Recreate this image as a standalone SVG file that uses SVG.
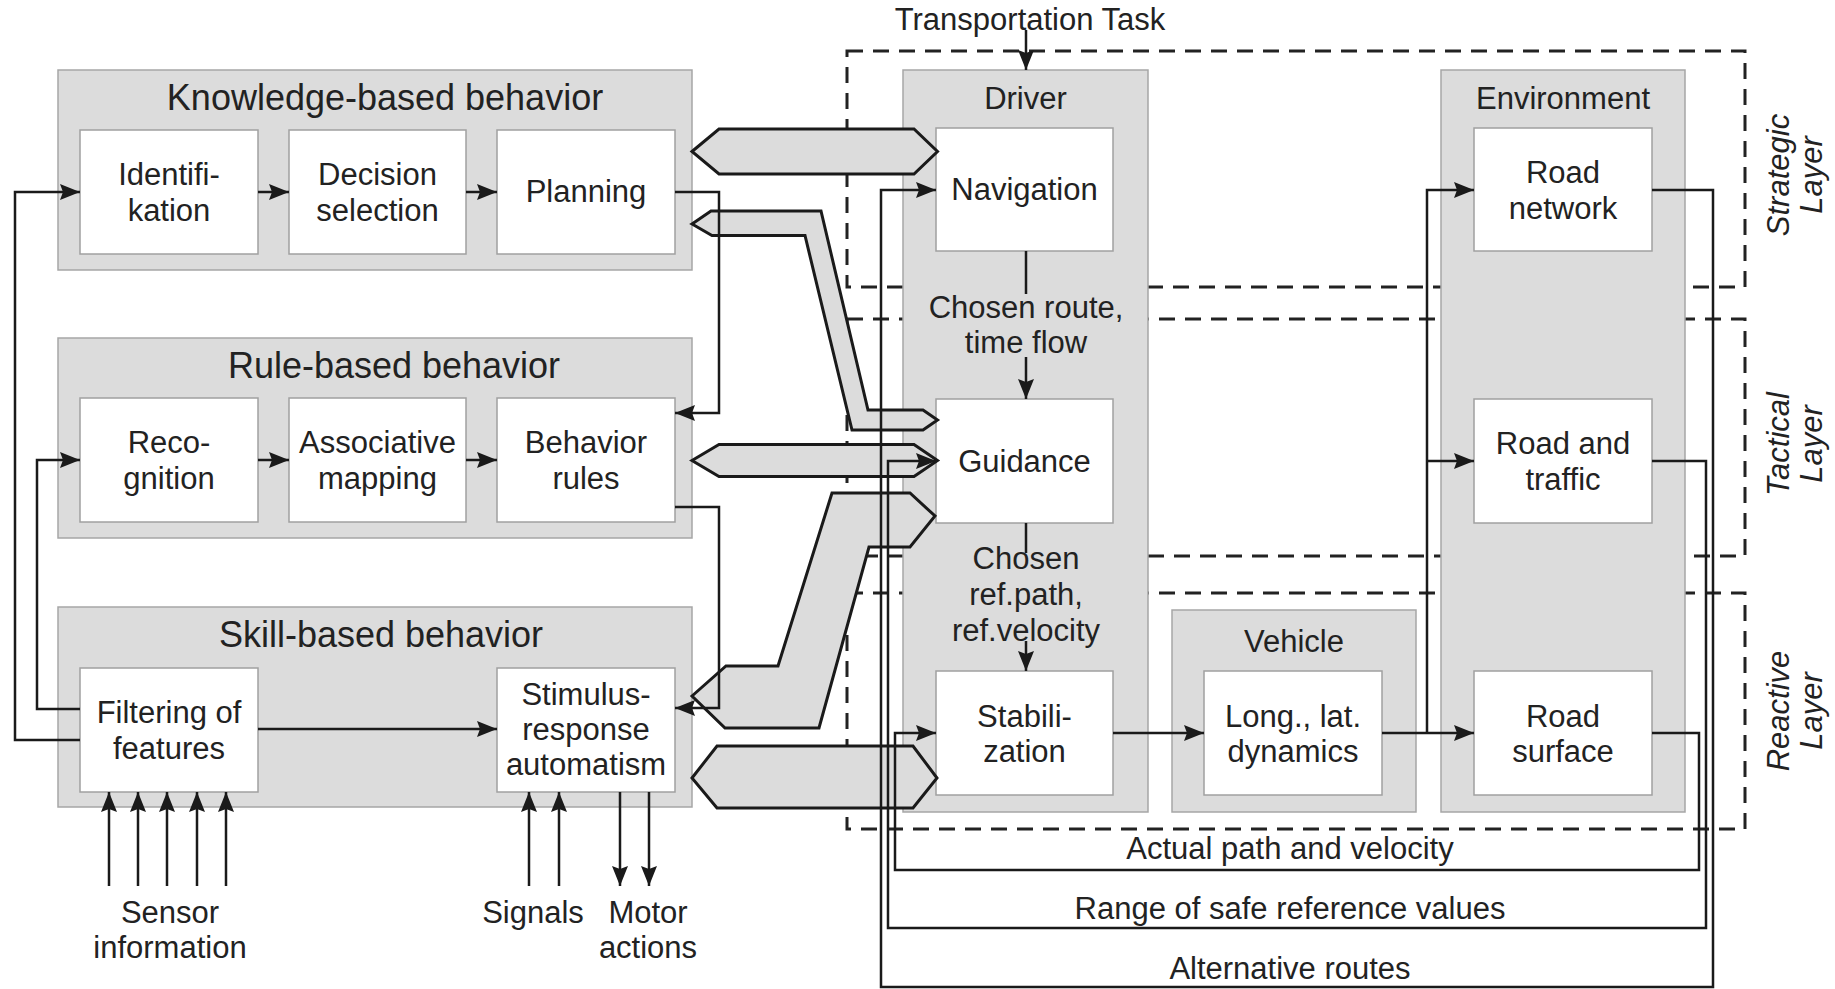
<svg xmlns="http://www.w3.org/2000/svg" width="1835" height="989" viewBox="0 0 1835 989">
  <defs>
    <marker id="ah" viewBox="0 0 20 16" markerWidth="20" markerHeight="16" refX="20" refY="8" orient="auto" markerUnits="userSpaceOnUse">
      <path d="M0,0 L20,8 L0,16 L3,8 z" fill="#1a1a1a"/>
    </marker>
    <style>
      text { font-family: "Liberation Sans", Arial, sans-serif; font-size: 31px; fill: #222; text-anchor: middle; }
      .title { font-size: 36px; }
      .layer { font-style: italic; }
      .grp { fill: #dcdcdc; stroke: #a6a6a6; stroke-width: 1.5; }
      .box { fill: #ffffff; stroke: #a0a0a0; stroke-width: 1.5; }
      .dash { fill: none; stroke: #222; stroke-width: 3; stroke-dasharray: 16 10; }
      .hex { fill: #dcdcdc; stroke: #1a1a1a; stroke-width: 3; stroke-linejoin: miter; }
      .ln { fill: none; stroke: #1a1a1a; stroke-width: 2.5; }
      .arr { fill: none; stroke: #1a1a1a; stroke-width: 2.5; marker-end: url(#ah); }
    </style>
  </defs>

  <rect width="1835" height="989" fill="#ffffff"/>

  <!-- layer frames -->
  <g id="layers">
    <rect class="dash" x="847" y="51" width="898" height="236"/>
    <rect class="dash" x="847" y="319" width="898" height="237"/>
    <rect class="dash" x="847" y="593" width="898" height="236"/>
    <text class="layer" transform="translate(1789,175) rotate(-90)">Strategic</text>
    <text class="layer" transform="translate(1822,175) rotate(-90)">Layer</text>
    <text class="layer" transform="translate(1789,444) rotate(-90)">Tactical</text>
    <text class="layer" transform="translate(1822,444) rotate(-90)">Layer</text>
    <text class="layer" transform="translate(1789,711) rotate(-90)">Reactive</text>
    <text class="layer" transform="translate(1822,711) rotate(-90)">Layer</text>
  </g>

  <!-- human behaviour levels -->
  <g id="knowledge-based">
    <rect class="grp" x="58" y="70" width="634" height="200"/>
    <text class="title" x="385" y="110">Knowledge-based behavior</text>
  </g>
  <g id="identifikation">
    <rect class="box" x="80" y="130" width="178" height="124"/>
    <text x="169" y="185">Identifi-</text>
    <text x="169" y="221">kation</text>
  </g>
  <g id="decision-selection">
    <rect class="box" x="289" y="130" width="177" height="124"/>
    <text x="377.5" y="185">Decision</text>
    <text x="377.5" y="221">selection</text>
  </g>
  <g id="planning">
    <rect class="box" x="497" y="130" width="178" height="124"/>
    <text x="586" y="202">Planning</text>
  </g>

  <g id="rule-based">
    <rect class="grp" x="58" y="338" width="634" height="200"/>
    <text class="title" x="394" y="378">Rule-based behavior</text>
  </g>
  <g id="recognition">
    <rect class="box" x="80" y="398" width="178" height="124"/>
    <text x="169" y="453">Reco-</text>
    <text x="169" y="489">gnition</text>
  </g>
  <g id="associative-mapping">
    <rect class="box" x="289" y="398" width="177" height="124"/>
    <text x="377.5" y="453">Associative</text>
    <text x="377.5" y="489">mapping</text>
  </g>
  <g id="behavior-rules">
    <rect class="box" x="497" y="398" width="178" height="124"/>
    <text x="586" y="453">Behavior</text>
    <text x="586" y="489">rules</text>
  </g>

  <g id="skill-based">
    <rect class="grp" x="58" y="607" width="634" height="200"/>
    <text class="title" x="381" y="647">Skill-based behavior</text>
  </g>
  <g id="filtering">
    <rect class="box" x="80" y="668" width="178" height="124"/>
    <text x="169" y="723">Filtering of</text>
    <text x="169" y="759">features</text>
  </g>
  <g id="stimulus-response">
    <rect class="box" x="497" y="668" width="178" height="124"/>
    <text x="586" y="705">Stimulus-</text>
    <text x="586" y="740">response</text>
    <text x="586" y="775">automatism</text>
  </g>

  <!-- driver -->
  <g id="driver">
    <rect class="grp" x="903" y="70" width="245" height="742"/>
    <text x="1025.5" y="109">Driver</text>
    <text x="1026" y="318">Chosen route,</text>
    <text x="1026" y="353">time flow</text>
    <text x="1026" y="569">Chosen</text>
    <text x="1026" y="605">ref.path,</text>
    <text x="1026" y="641">ref.velocity</text>
  </g>
  <g id="navigation">
    <rect class="box" x="936" y="128" width="177" height="123"/>
    <text x="1024.5" y="200">Navigation</text>
  </g>
  <g id="guidance">
    <rect class="box" x="936" y="399" width="177" height="124"/>
    <text x="1024.5" y="472">Guidance</text>
  </g>
  <g id="stabilization">
    <rect class="box" x="936" y="671" width="177" height="124"/>
    <text x="1024.5" y="727">Stabili-</text>
    <text x="1024.5" y="762">zation</text>
  </g>

  <!-- vehicle -->
  <g id="vehicle">
    <rect class="grp" x="1172" y="610" width="244" height="202"/>
    <text x="1294" y="652">Vehicle</text>
  </g>
  <g id="dynamics">
    <rect class="box" x="1204" y="671" width="178" height="124"/>
    <text x="1293" y="727">Long., lat.</text>
    <text x="1293" y="762">dynamics</text>
  </g>

  <!-- environment -->
  <g id="environment">
    <rect class="grp" x="1441" y="70" width="244" height="742"/>
    <text x="1563" y="109">Environment</text>
  </g>
  <g id="road-network">
    <rect class="box" x="1474" y="128" width="178" height="123"/>
    <text x="1563" y="183">Road</text>
    <text x="1563" y="219">network</text>
  </g>
  <g id="road-traffic">
    <rect class="box" x="1474" y="399" width="178" height="124"/>
    <text x="1563" y="454">Road and</text>
    <text x="1563" y="490">traffic</text>
  </g>
  <g id="road-surface">
    <rect class="box" x="1474" y="671" width="178" height="124"/>
    <text x="1563" y="727">Road</text>
    <text x="1563" y="762">surface</text>
  </g>

  <!-- broad two-way links between behaviour levels and driver tasks -->
  <g id="links">
    <polygon class="hex" points="692,151.5 719,129 914,129 937.5,151.5 914,174 719,174"/>
    <polygon class="hex" points="692,460.5 719,444.5 914,444.5 937.5,460.5 914,476.5 719,476.5"/>
    <polygon class="hex" points="692,778 717,746 913,746 937,778 913,808 717,808"/>
    <polygon class="hex" points="692,224 711,211 821,211 868,410 923,410 937.5,420 923,430 852,430 805,235.5 712,235.5"/>
    <polygon class="hex" points="692,696 726,666 778,666 832,493 910,493 935,516 910,547 869,547 819,728 725,728"/>
  </g>

  <!-- connectors -->
  <g id="connectors">
    <path class="arr" d="M1026,30 V70"/>
    <path class="arr" d="M258,192 H289"/>
    <path class="arr" d="M466,192 H497"/>
    <path class="arr" d="M258,460 H289"/>
    <path class="arr" d="M466,460 H497"/>
    <path class="arr" d="M258,729 H497"/>
    <path class="arr" d="M80,740 H15 V192 H80"/>
    <path class="arr" d="M80,709 H37 V460 H80"/>
    <path class="arr" d="M675,192 H719 V413 H675"/>
    <path class="arr" d="M675,507 H719 V708 H675"/>

    <path class="arr" d="M109,886 V792"/>
    <path class="arr" d="M138,886 V792"/>
    <path class="arr" d="M167,886 V792"/>
    <path class="arr" d="M197,886 V792"/>
    <path class="arr" d="M226,886 V792"/>
    <path class="arr" d="M529,886 V792"/>
    <path class="arr" d="M559,886 V792"/>
    <path class="arr" d="M620,792 V886"/>
    <path class="arr" d="M649,792 V886"/>

    <path class="ln" d="M1026,251 V294"/>
    <path class="arr" d="M1026,357 V399"/>
    <path class="ln" d="M1026,523 V553"/>
    <path class="arr" d="M1026,641 V671"/>

    <path class="arr" d="M1113,733 H1204"/>
    <path class="arr" d="M1382,733 H1474"/>
    <path class="arr" d="M1427,733 V190 H1474"/>
    <path class="arr" d="M1427,461 H1474"/>

    <path class="arr" d="M1652,190 H1713 V987 H881 V190 H936"/>
    <path class="arr" d="M1652,461 H1706 V928 H888 V461 H936"/>
    <path class="arr" d="M1652,733 H1699 V870 H895 V733 H936"/>
  </g>

  <!-- free labels -->
  <g id="labels">
    <text x="1030" y="30">Transportation Task</text>
    <text x="170" y="923">Sensor</text>
    <text x="170" y="958">information</text>
    <text x="533" y="923">Signals</text>
    <text x="648" y="923">Motor</text>
    <text x="648" y="958">actions</text>
    <text x="1290" y="859">Actual path and velocity</text>
    <text x="1290" y="919">Range of safe reference values</text>
    <text x="1290" y="979">Alternative routes</text>
  </g>
</svg>
